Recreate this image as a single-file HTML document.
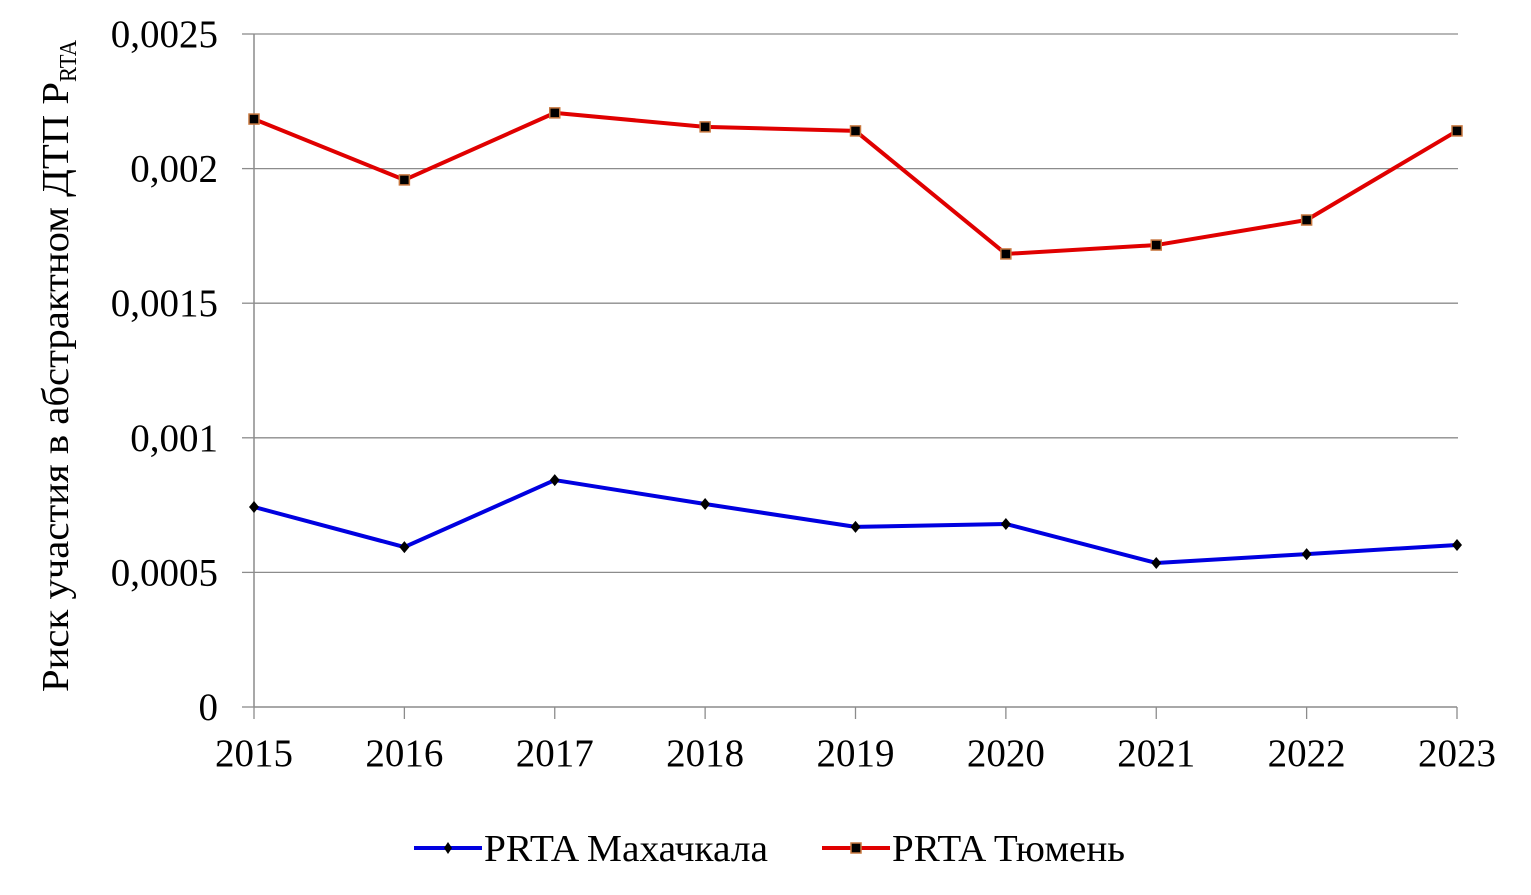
<!DOCTYPE html>
<html><head><meta charset="utf-8"><style>
html,body{margin:0;padding:0;background:#fff;}
svg{display:block;font-family:"Liberation Serif","DejaVu Serif",serif;}
</style></head><body>
<svg id="chart" width="1531" height="895" viewBox="0 0 1531 895">
<rect x="0" y="0" width="1531" height="895" fill="#fff"/>
<g id="grid"></g><g id="axes"></g><g id="series"></g>
<text transform="translate(68,366) rotate(-90)" text-anchor="middle" font-size="38" fill="#000"><tspan textLength="610" lengthAdjust="spacingAndGlyphs">Риск участия в абстрактном  ДТП P</tspan><tspan font-size="24" dy="8" textLength="42" lengthAdjust="spacingAndGlyphs">RTA</tspan></text>
<g>
<g>
<line x1="414" y1="848" x2="482" y2="848" stroke="#0000e0" stroke-width="4"/>
<path d="M448 842 L452 848 L448 854 L444 848 Z" fill="#000"/>
<text x="484" y="861" font-size="38" fill="#000" textLength="284" lengthAdjust="spacingAndGlyphs">PRTA Махачкала</text>
</g>
<g>
<line x1="822" y1="848" x2="890" y2="848" stroke="#e00000" stroke-width="4"/>
<rect x="851" y="843" width="10" height="10" fill="#000" stroke="#c87840" stroke-width="1.5"/>
<text x="892" y="861" font-size="38" fill="#000" textLength="233" lengthAdjust="spacingAndGlyphs">PRTA Тюмень</text>
</g>
</g>
</svg>
<script>
const years = ["2015","2016","2017","2018","2019","2020","2021","2022","2023"];
const makhachkala = [0.000743,0.000594,0.000843,0.000754,0.000669,0.00068,0.000535,0.000568,0.000602];
const tyumen = [0.002184,0.001958,0.002207,0.002155,0.00214,0.001683,0.001716,0.001809,0.00214];
const yTicks = [0,0.0005,0.001,0.0015,0.002,0.0025];
const yTickLabels = ["0","0,0005","0,001","0,0015","0,002","0,0025"];

const NS="http://www.w3.org/2000/svg";
const X0=254,X1=1457,Y0=707,Y1=34,YMAX=0.0025;
function xs(i){return X0+(X1-X0)*i/(years.length-1);}
function ys(v){return Y0-(Y0-Y1)*v/YMAX;}
function mk(tag,attrs,parent){const e=document.createElementNS(NS,tag);for(const k in attrs)e.setAttribute(k,attrs[k]);parent.appendChild(e);return e;}
const grid=document.getElementById('grid'),axes=document.getElementById('axes'),series=document.getElementById('series');
yTicks.forEach((t,i)=>{
  const y=ys(t);
  if(t>0){const g=mk('line',{x1:X0,x2:X1+1,y1:y,y2:y,stroke:'#8c8c8c','stroke-width':1.3},grid);
  
  }
  const tk=mk('line',{x1:X0-12,x2:X0,y1:y,y2:y,stroke:'#8c8c8c','stroke-width':1.3},axes);
  
  
  const tx=mk('text',{x:218,y:y+13,'text-anchor':'end','font-size':39,fill:'#000'},axes);
  tx.textContent=yTickLabels[i];
  
  
});
const ya=mk('line',{x1:X0,x2:X0,y1:Y1,y2:Y0,stroke:'#8c8c8c','stroke-width':1.5},axes);


const xa=mk('line',{x1:X0,x2:X1,y1:Y0,y2:Y0,stroke:'#8c8c8c','stroke-width':1.5},axes);


years.forEach((yr,i)=>{
  const x=xs(i);
  const tk=mk('line',{x1:x,x2:x,y1:Y0,y2:Y0+12,stroke:'#8c8c8c','stroke-width':1.3},axes);
  
  
  const tx=mk('text',{x:x,y:766,'text-anchor':'middle','font-size':39,fill:'#000'},axes);
  tx.textContent=yr;
  
  
});
function drawLine(vals,color,name,marker){
  const pts=vals.map((v,i)=>xs(i)+','+ys(v)).join(' ');
  const pl=mk('polyline',{points:pts,fill:'none',stroke:color,'stroke-width':4,'stroke-linejoin':'round'},series);
  
  
  vals.forEach((v,i)=>{
    const x=xs(i),y=ys(v);let m;
    if(marker==='diamond') m=mk('path',{d:`M${x} ${y-6}L${x+5} ${y}L${x} ${y+6}L${x-5} ${y}Z`,fill:'#000'},series);
    else m=mk('rect',{x:x-5,y:y-5,width:10,height:10,fill:'#000',stroke:'#c87840','stroke-width':1.5},series);
    
    
  });
}
drawLine(makhachkala,'#0000e0','makhachkala','diamond');
drawLine(tyumen,'#e00000','tyumen','square');
</script>
</body></html>
